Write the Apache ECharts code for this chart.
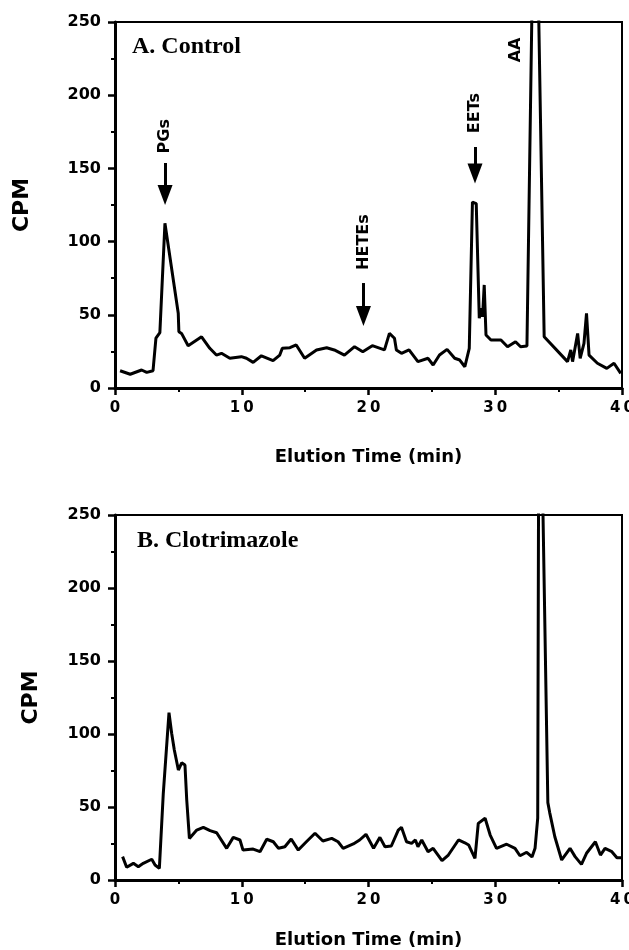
<!DOCTYPE html>
<html>
<head>
<meta charset="utf-8">
<script src="https://cdn.jsdelivr.net/npm/echarts@6/dist/echarts.min.js"></script>
<style>
html, body { margin: 0; padding: 0; background: #fff; }
#main { width: 629px; height: 950px; }
</style>
</head>
<body>
<div id="main"></div>
<script>
// panel A - control
var timeA = [0.4, 1.2, 2.1, 2.5, 3.0, 3.23, 3.54, 3.94, 4.99, 5.04, 5.25, 5.77, 6.83, 7.48, 8.0, 8.4, 9.06, 9.97,
	10.37, 10.9, 11.55, 12.47, 13.0, 13.2, 13.8, 14.3, 14.96, 15.9, 16.7, 17.3, 18.1, 18.9, 19.55, 20.3, 21.26,
	21.65, 22.05, 22.2, 22.6, 23.2, 23.9, 24.7, 25.1, 25.6, 26.2, 26.8, 27.2, 27.6, 27.95, 28.2, 28.5, 28.74,
	28.87, 29.0, 29.13, 29.27, 29.66, 30.45, 30.97, 31.6, 32.0, 32.5, 33.0, 33.3, 33.86, 35.7, 35.96, 36.1,
	36.5, 36.7, 37.0, 37.2, 37.4, 38.06, 38.8, 39.37, 39.9];
var cpmA = [11.8, 9.4, 12.3, 10.7, 11.8, 34, 37.8, 112.5, 51, 38.5, 37.3, 28.9, 35, 27.1, 22.5, 23.7, 20.3, 21.4,
	20.3, 17.5, 22, 18.7, 22.5, 27.1, 27.5, 29.4, 20.3, 26, 27.5, 26, 22.5, 28.2, 24.8, 28.9, 26,
	37.3, 34, 26, 23.7, 26, 18, 20.3, 15.7, 22.5, 26.4, 20.3, 19.1, 14.5, 27.1, 127, 126, 47.6,
	54.4, 48.7, 70.4, 36.2, 32.8, 32.8, 28.2, 31.6, 28.2, 28.7, 320, 320, 35, 18, 26, 18,
	37.3, 20.3, 30.5, 51, 22.5, 16.9, 13.4, 16.9, 10];

// panel B - clotrimazole
var timeB = [0.6, 0.92, 1.45, 1.84, 2.23, 2.9, 3.16, 3.5, 3.81, 3.94, 4.26, 4.47, 4.68, 5.0, 5.26, 5.52, 5.66,
	5.87, 6.45, 6.97, 7.5, 8.02, 8.81, 9.33, 9.86, 10.1, 10.9, 11.44, 11.97, 12.49, 12.9, 13.4, 13.9, 14.46,
	15.1, 15.78, 16.4, 17.1, 17.6, 18.0, 18.8, 19.3, 19.8, 20.4, 20.9, 21.3, 21.8, 22.35, 22.6, 23.0, 23.4,
	23.7, 23.9, 24.2, 24.7, 25.1, 25.8, 26.3, 27.1, 27.6, 27.9, 28.4, 28.66, 29.2, 29.6, 30.1, 30.9, 31.56,
	31.95, 32.48, 32.9, 33.14, 33.35, 33.42, 33.72, 34.15, 34.3, 34.7, 35.24, 35.9, 36.3, 36.8, 37.2, 37.9,
	38.3, 38.66, 39.2, 39.6, 39.98];
var cpmB = [16, 8.7, 11.4, 9.1, 11.4, 14.2, 10.3, 8, 59.4, 60.5, 114.6, 100.5, 89, 75.3, 80.3, 78.8, 54.8,
	28.5, 34.2, 36.1, 33.8, 32.4, 21.7, 29.2, 27.4, 20.5, 21.2, 19.4, 27.9, 26.2, 21.7, 22.8, 28.1, 20.5,
	26.2, 32, 26.7, 28.5, 26.2, 21.7, 24.7, 27.4, 31.3, 21.7, 29.2, 22.8, 23.3, 34.2, 36.1, 26.2, 25.1,
	27.4, 22.8, 27.4, 19.4, 21.7, 13.2, 17.1, 27.4, 25.5, 24, 14.8, 38.8, 42.3, 30.8, 21.7, 24.5, 21.7,
	16.6, 19, 15.8, 21.7, 42.3, 275, 275, 53, 46, 29.6, 13.7, 21.7, 16, 10.7, 18.3, 26.2,
	17.1, 21.7, 19.4, 15.3, 15.3];

// peak annotations on panel A (time, CPM of label centre)
var peakNames = ['PGs', 'HETEs', 'EETs', 'AA'];
var peakTime = [3.95, 19.6, 28.4, 31.65];
var peakLabelCpm = [172, 99.7, 187.8, 230.9];
// arrows: shaft top / head centre (CPM)
var arrowTop = [153.7, 71.7, 164.6];
var arrowHead = [131.8, 49.2, 146.5];

var sans = 'DejaVu Sans';

function pairs(xs, ys) {
	var r = [];
	for (var i = 0; i < xs.length; i++) {
		r.push([xs[i], ys[i]]);
	}
	return r;
}

function xAxisFor(idx, gap) {
	return {
		type: 'value', gridIndex: idx, min: 0, max: 40, interval: 10,
		name: 'Elution Time (min)', nameLocation: 'middle', nameGap: gap,
		nameTextStyle: { fontFamily: sans, fontWeight: 'bold', fontSize: 18, color: '#000' },
		axisLine: { lineStyle: { color: '#000', width: 3 } },
		axisTick: { length: 7, lineStyle: { color: '#000', width: 2.5 } },
		minorTick: { show: true, splitNumber: 2, length: 4, lineStyle: { color: '#000', width: 2 } },
		axisLabel: {
			margin: 13, fontFamily: sans, fontWeight: 'bold', fontSize: 15, color: '#000',
			formatter: function(v) { return String(v).split('').join('\u2009'); }
		},
		splitLine: { show: false }
	};
}

function yAxisFor(idx, gap) {
	return {
		type: 'value', gridIndex: idx, min: 0, max: 250, interval: 50,
		name: 'CPM', nameLocation: 'middle', nameGap: gap,
		nameTextStyle: { fontFamily: sans, fontWeight: 'bold', fontSize: 22, color: '#000' },
		axisLine: { show: true, lineStyle: { color: '#000', width: 3 } },
		axisTick: { show: true, length: 7, lineStyle: { color: '#000', width: 2.5 } },
		minorTick: { show: true, splitNumber: 2, length: 4, lineStyle: { color: '#000', width: 2 } },
		axisLabel: { margin: 14, fontFamily: sans, fontWeight: 'bold', fontSize: 16, color: '#000' },
		splitLine: { show: false }
	};
}

var labelPoints = [];
for (var i = 0; i < peakNames.length; i++) {
	labelPoints.push({
		coord: [peakTime[i], peakLabelCpm[i]],
		value: peakNames[i]
	});
}
var shafts = [];
var heads = [];
for (var k = 0; k < arrowTop.length; k++) {
	shafts.push([{ coord: [peakTime[k], arrowTop[k]] }, { coord: [peakTime[k], arrowHead[k] + 3] }]);
	heads.push([peakTime[k], arrowHead[k]]);
}

var chart = echarts.init(document.getElementById('main'));
var option = {
	animation: false,
	backgroundColor: '#fff',
	grid: [
		{ left: 115, top: 22, width: 507, height: 366, show: true, borderColor: '#000', borderWidth: 2,
			outerBoundsMode: 'none', containLabel: false },
		{ left: 115, top: 515, width: 507, height: 365, show: true, borderColor: '#000', borderWidth: 2,
			outerBoundsMode: 'none', containLabel: false }
	],
	xAxis: [xAxisFor(0, 60), xAxisFor(1, 51)],
	yAxis: [yAxisFor(0, 82), yAxisFor(1, 73)],
	graphic: [
		{ type: 'text', style: { x: 132, y: 47, text: 'A. Control', verticalAlign: 'middle',
			font: 'bold 24px "Liberation Serif"', fill: '#000' } },
		{ type: 'text', style: { x: 137, y: 541, text: 'B. Clotrimazole', verticalAlign: 'middle',
			font: 'bold 24px "Liberation Serif"', fill: '#000' } }
	],
	series: [
		{
			type: 'line', xAxisIndex: 0, yAxisIndex: 0, data: pairs(timeA, cpmA),
			showSymbol: false, clip: true,
			lineStyle: { color: '#000', width: 3 },
			markPoint: {
				symbol: 'circle', symbolSize: 1,
				itemStyle: { color: 'rgba(0,0,0,0)' },
				label: {
					show: true, position: 'inside', rotate: 90, formatter: '{c}',
					fontFamily: sans, fontWeight: 'bold', fontSize: 16, color: '#000'
				},
				data: labelPoints
			},
			markLine: {
				silent: true, symbol: ['none', 'none'],
				label: { show: false },
				lineStyle: { color: '#000', width: 3, type: 'solid' },
				data: shafts
			}
		},
		{
			type: 'scatter', xAxisIndex: 0, yAxisIndex: 0, data: heads,
			symbol: 'triangle', symbolRotate: 180, symbolSize: [15, 20],
			itemStyle: { color: '#000', opacity: 1 }
		},
		{
			type: 'line', xAxisIndex: 1, yAxisIndex: 1, data: pairs(timeB, cpmB),
			showSymbol: false, clip: true,
			lineStyle: { color: '#000', width: 3 }
		}
	]
};
chart.setOption(option);
</script>
</body>
</html>
